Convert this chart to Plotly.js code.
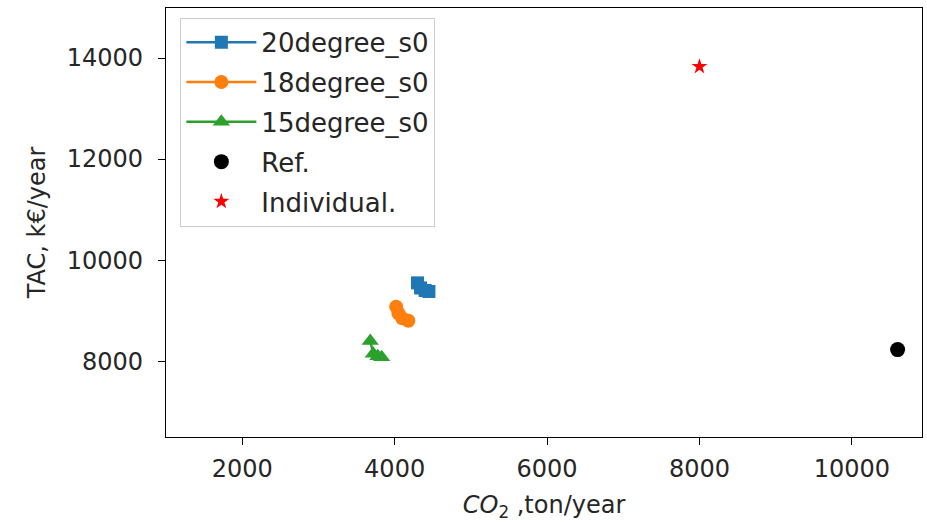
<!DOCTYPE html>
<html>
<head>
<meta charset="utf-8">
<script src="https://cdn.plot.ly/plotly-3.0.1.min.js"></script>
<style>html,body{margin:0;padding:0;background:#fff;}#chart{width:927px;height:522px;}</style>
</head>
<body>
<div id="chart"></div>
<script>
const s20_x = [4300, 4340, 4400, 4450];
const s20_y = [9550, 9450, 9400, 9380];
const s18_x = [4020, 4050, 4100, 4180];
const s18_y = [9080, 8950, 8850, 8800];
const s15_x = [3680, 3720, 3780, 3830];
const s15_y = [8400, 8150, 8100, 8080];
const ref_x = [10600];
const ref_y = [8230];
const ind_x = [8000];
const ind_y = [13830];
const names = ["20degree_s0", "18degree_s0", "15degree_s0", "Ref.", "Individual."];
const xTicks = [2000, 4000, 6000, 8000, 10000];
const yTicks = [8000, 10000, 12000, 14000];

const traces = [
  {x: s20_x, y: s20_y, name: names[0], legendgroup: "a", mode: "lines+markers", line: {color: "#1f77b4", width: 2.5}, marker: {symbol: "square", size: 13, color: "#1f77b4"}},
  {x: s18_x, y: s18_y, name: names[1], legendgroup: "b", mode: "lines+markers", line: {color: "#ff7f0e", width: 2.5}, marker: {symbol: "circle", size: 14, color: "#ff7f0e"}},
  {x: s15_x, y: s15_y, name: names[2], legendgroup: "c", mode: "lines+markers", line: {color: "#2ca02c", width: 2.5}, marker: {symbol: "triangle-up", size: 15, color: "#2ca02c"}},
  {x: ref_x, y: ref_y, name: names[3], legendgroup: "d", mode: "markers", marker: {symbol: "circle", size: 15, color: "black"}},
  {x: ind_x, y: ind_y, name: names[4], legendgroup: "e", mode: "markers", marker: {symbol: "star", size: 12, color: "red"}}
];

const layout = {
  width: 927, height: 522,
  margin: {l: 166, r: 5, t: 8, b: 85},
  paper_bgcolor: "white", plot_bgcolor: "white",
  font: {family: "DejaVu Sans", size: 24, color: "#262626"},
  showlegend: true,
  legend: {x: 0.019, y: 0.977, xanchor: "left", yanchor: "top", bgcolor: "white", bordercolor: "#cccccc", borderwidth: 1,
           font: {size: 26}, traceorder: "grouped", tracegroupgap: 3, itemwidth: 70},
  xaxis: {
    range: [1000, 10920], tickvals: xTicks, ticktext: xTicks.map(String),
    ticks: "outside", ticklen: 7, tickcolor: "black", showgrid: false, zeroline: false,
    showline: true, linecolor: "black", linewidth: 1.2, mirror: true, ticklabelstandoff: 3,
    title: {text: "<i>CO</i><sub>2</sub> ,ton/year", font: {size: 24}, standoff: 14}
  },
  yaxis: {
    range: [6500, 14990], tickvals: yTicks, ticktext: yTicks.map(String),
    ticks: "outside", ticklen: 7, tickcolor: "black", showgrid: false, zeroline: false,
    showline: true, linecolor: "black", linewidth: 1.2, mirror: true, ticklabelstandoff: 10,
    title: {text: "TAC, k€/year", font: {size: 24}, standoff: 14}
  }
};
Plotly.newPlot("chart", traces, layout, {displayModeBar: false, staticPlot: true});
</script>
</body>
</html>
